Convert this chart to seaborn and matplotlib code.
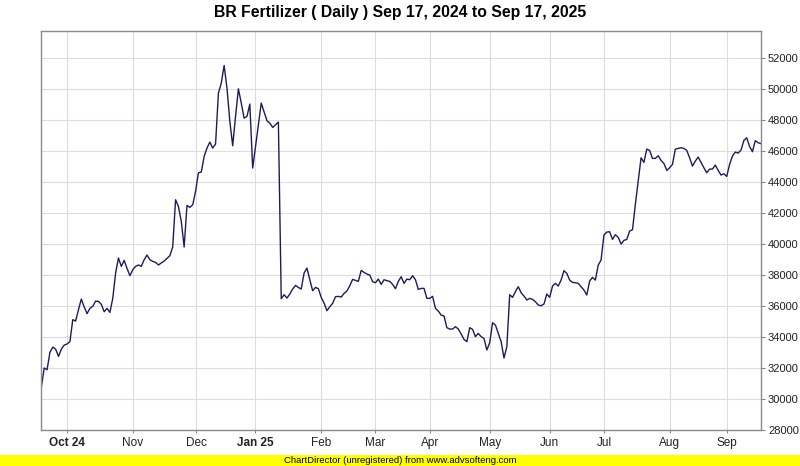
import pandas as pd
import matplotlib
matplotlib.use('Agg')
import matplotlib.pyplot as plt
from matplotlib.patches import Rectangle
import seaborn as sns

# daily closing values (Sep 17, 2024 -> Sep 17, 2025)
prices = [
    30770, 32000, 31890, 33010, 33350, 33220, 32750, 33220, 33480, 33550,
    33700, 35120, 35030, 35770, 36450, 35940, 35510, 35850, 35980, 36320,
    36300, 36110, 35630, 35850, 35590, 36490, 38130, 39100, 38560, 38950,
    38430, 37960, 38340, 38560, 38650, 38560, 38990, 39290, 38990, 38880,
    38820, 38650, 38780, 38900, 39080, 39250, 39810, 42860, 42430, 41460,
    39810, 42495, 42366, 42538, 43398, 44602, 44645, 45656, 46194, 46581,
    46194, 46452, 49742, 50387, 51527, 50065, 47914, 46344, 48237, 50022,
    49097, 48129, 48237, 49032, 44903, 46301, 47699, 49097, 48516, 47957,
    47806, 47527, 47699, 47871, 36473, 36731, 36516, 36774, 37097, 37333,
    37200, 37097, 38129, 38452, 37699, 36989, 37204, 37118, 36559, 36194,
    35699, 35957, 36172, 36602, 36624, 36581, 36817, 36968, 37312, 37720,
    37656, 37591, 38301, 38172, 38065, 38000, 37570, 37505, 37742, 37398,
    37699, 37634, 37591, 37398, 37118, 37591, 37892, 37462, 37742, 37699,
    37957, 37699, 37075, 37140, 37140, 36495, 36495, 36624, 35849, 35677,
    35419, 35355, 34602, 34516, 34516, 34667, 34516, 34194, 33849, 33699,
    34602, 34495, 34022, 34237, 34022, 33914, 33161, 33634, 34925, 34774,
    34237, 33699, 32645, 33376, 36731, 36559, 36925, 37247, 36860, 36645,
    36387, 36495, 36430, 36280, 36065, 36022, 36129, 36774, 36559, 37290,
    37462, 37290, 37677, 38280, 38108, 37677, 37527, 37505, 37462, 37247,
    37032, 36710, 37613, 37850, 37677, 38645, 38968, 40581, 40774, 40796,
    40301, 40602, 40430, 40000, 40237, 40301, 40839, 40925, 42559, 44065,
    45570, 45269, 46129, 46043, 45527, 45527, 45699, 45398, 45204, 44753,
    44925, 45140, 46129, 46172, 46215, 46172, 46043, 45570, 45032, 45355,
    45613, 45269, 44925, 44602, 44839, 44839, 45097, 44753, 44452, 44538,
    44366, 45140, 45677, 45935, 45871, 46065, 46688, 46860, 46300, 45960,
    46670, 46540, 46480,
]

# first trading day of each month, as position in the series
month_ticks = [9, 32, 54.3, 74.8, 98, 116.9, 136.1, 157.2, 178, 197, 220, 240]
month_labels = ['Oct 24', 'Nov', 'Dec', 'Jan 25', 'Feb', 'Mar', 'Apr', 'May',
                'Jun', 'Jul', 'Aug', 'Sep']
year_labels = ['Oct 24', 'Jan 25']

y_ticks = list(range(28000, 52001, 2000))

df = pd.DataFrame({'day': range(len(prices)), 'price': prices})

sns.set_style('white')
plt.rcParams['font.family'] = ['Liberation Sans', 'DejaVu Sans']
narrow = ['Liberation Sans Narrow', 'Liberation Sans', 'DejaVu Sans']

W, H = 800, 466
fig = plt.figure(figsize=(W / 100, H / 100), dpi=100)
fig.patch.set_facecolor('white')
ax = fig.add_axes([40.5 / W, 1 - 430 / H, (761 - 40.5) / W, 399 / H])

sns.lineplot(data=df, x='day', y='price', ax=ax, color='#1c1c5c', linewidth=1.0)

ax.set_xlim(-0.3, len(prices) - 1)
ax.set_ylim(28000, 53750)
ax.set_xlabel('')
ax.set_ylabel('')

ax.yaxis.tick_right()
ax.set_yticks(y_ticks)
ax.set_yticklabels([str(v) for v in y_ticks])
ax.tick_params(axis='y', right=True, left=False, direction='out', length=3,
               width=0.8, color='#888888', pad=2, labelsize=8, labelcolor='#222222')

ax.set_xticks(month_ticks)
ax.set_xticklabels(month_labels)
ax.tick_params(axis='x', bottom=True, direction='out', length=2, width=0.8,
               color='#888888', pad=3, labelsize=8.5, labelcolor='#222222')
for lab in ax.get_xticklabels():
    lab.set_family(narrow)
    if lab.get_text() in year_labels:
        lab.set_fontweight('bold')

ax.grid(True, color='#dddddd', linewidth=0.8)
ax.set_axisbelow(True)
for sp in ax.spines.values():
    sp.set_color('#8a8a8a')
    sp.set_linewidth(1.0)

fig.text(0.5, 1 - 13 / H, 'BR Fertilizer ( Daily ) Sep 17, 2024 to Sep 17, 2025',
         ha='center', va='center', fontsize=11.3, fontweight='bold',
         family=narrow, color='#000000')

# yellow footer band
fig.patches.append(Rectangle((0, 0), 1, 11 / H, transform=fig.transFigure,
                             facecolor='#ffff00', edgecolor='none'))
fig.text(0.5, 5.5 / H, 'ChartDirector (unregistered) from www.advsofteng.com',
         ha='center', va='center', fontsize=6.8, family=narrow, color='#000000')

fig.savefig('out.png', dpi=100)
